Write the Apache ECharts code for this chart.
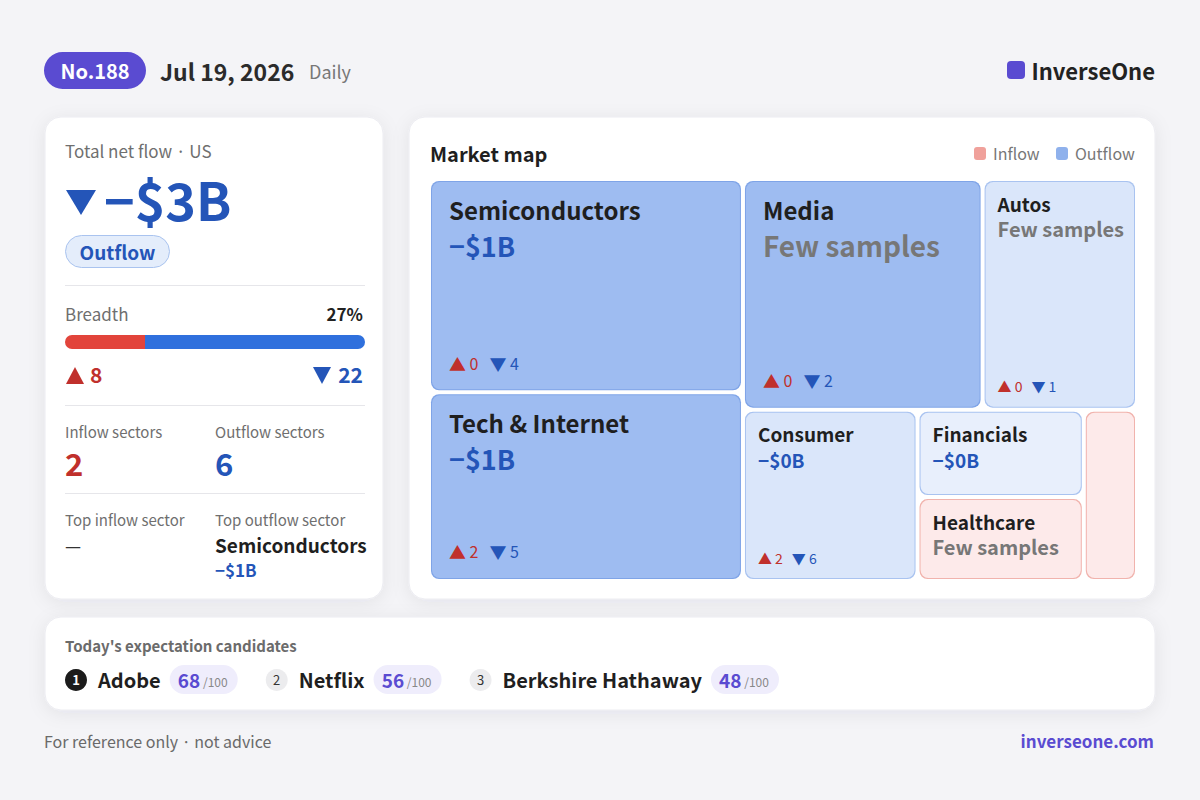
<!DOCTYPE html>
<html><head><meta charset="utf-8">
<script src="https://cdn.jsdelivr.net/npm/echarts@6/dist/echarts.min.js"></script>
<style>html,body{margin:0;padding:0;background:#f4f4f7;}#c{width:1200px;height:800px;}</style>
</head><body><div id="c"></div>
<script>
// ---------- data ----------
const issueNo = 'No.188';
const reportDate = 'Jul 19, 2026';
const period = 'Daily';
const brand = 'InverseOne';
const siteUrl = 'inverseone.com';
const region = 'US';
const totalFlowText = '−$3B';
const flowLabel = 'Outflow';
const breadthUp = 8;
const breadthDown = 22;
const inflowSectorCount = 2;
const outflowSectorCount = 6;
const topInflowSector = '—';
const topOutflowSector = 'Semiconductors';
const topOutflowText = '−$1B';

const sectorNames = ['Semiconductors', 'Tech & Internet', 'Media', 'Autos', 'Consumer', 'Financials', 'Healthcare', 'Other'];
const sectorSizes = [23.5, 20.8, 19.4, 12.5, 10.5, 5.1, 4.9, 3.2];
const sectorFlowText = ['−$1B', '−$1B', 'Few samples', 'Few samples', '−$0B', '−$0B', 'Few samples', ''];
const sectorUp = [0, 2, 0, 0, 2, null, null, null];
const sectorDown = [4, 5, 2, 1, 6, null, null, null];
const sectorDirection = ['out', 'out', 'out', 'out', 'out', 'out', 'in', 'in'];
const sectorShade = [2, 2, 2, 1, 1, 0, 0, 0];

const candidateNames = ['Adobe', 'Netflix', 'Berkshire Hathaway'];
const candidateScores = [68, 56, 48];
const scoreMax = 100;

// ---------- styles ----------
const FONT = '"Noto Sans CJK JP","Noto Sans",sans-serif';
const BLUE = '#2455b8', RED = '#c0302c', PURPLE = '#5a4bd1';
const GRAY = '#6f6f6f', DARK = '#222222';
const outShades = [
  { fill: '#e8effc', border: '#a9c3f0' },
  { fill: '#dae6fa', border: '#a9c3f0' },
  { fill: '#9ebcf1', border: '#7fa4e7' }
];
const inShade = { fill: '#fdeaea', border: '#f1b3ad' };

const chart = echarts.init(document.getElementById('c'), null, { renderer: 'svg', width: 1200, height: 800 });

function txt(x, y, text, size, color, weight, align, extra) {
  return Object.assign({
    type: 'text', x: x, y: y - 1, silent: true,
    style: { text: text, fontSize: size, fontFamily: FONT, fontWeight: weight || 'normal', fill: color, textAlign: align || 'left', textVerticalAlign: 'middle' }
  }, extra || {});
}
function card(x, y, w, h) {
  return { type: 'rect', silent: true, shape: { x: x, y: y, width: w, height: h, r: 16 },
    style: { fill: '#ffffff', stroke: '#ececf1', lineWidth: 1, shadowBlur: 18, shadowColor: 'rgba(30,30,60,0.07)', shadowOffsetY: 3 } };
}
function hline(x1, x2, y) {
  return { type: 'line', silent: true, shape: { x1: x1, y1: y, x2: x2, y2: y }, style: { stroke: '#e6e6ea', lineWidth: 1 } };
}
function tri(cx, cy, w, h, up, color) {
  const pts = up ? [[cx - w / 2, cy + h / 2], [cx + w / 2, cy + h / 2], [cx, cy - h / 2]]
                 : [[cx - w / 2, cy - h / 2], [cx + w / 2, cy - h / 2], [cx, cy + h / 2]];
  return { type: 'polygon', silent: true, shape: { points: pts }, style: { fill: color } };
}

const measureCtx = document.createElement('canvas').getContext('2d');
function textWidth(t, size, weight) {
  measureCtx.font = (weight || 'normal') + ' ' + size + 'px ' + FONT;
  return measureCtx.measureText(t).width;
}

// ---------- graphic elements ----------
const g = [];
// header
g.push({ type: 'rect', silent: true, shape: { x: 44, y: 52, width: 102, height: 37, r: 18.5 }, style: { fill: PURPLE } });
g.push(txt(95, 71, issueNo, 20, '#ffffff', 'bold', 'center'));
g.push(txt(160, 72, reportDate, 23, '#2b2b2b', 'bold'));
g.push(txt(309, 72, period, 18, '#777777'));
g.push({ type: 'rect', silent: true, shape: { x: 1007, y: 61, width: 18, height: 18, r: 4 }, style: { fill: PURPLE } });
g.push(txt(1155, 71, brand, 22, DARK, 'bold', 'right'));

// cards
g.push(card(45, 117, 338, 482));
g.push(card(409, 117, 746, 482));
g.push(card(45, 617, 1110, 93));

// left card
g.push(txt(65, 151, 'Total net flow · ' + region, 17, GRAY));
g.push(tri(81, 202.5, 30, 25, false, BLUE));
g.push(txt(104, 199, totalFlowText, 52, BLUE, 'bold'));
g.push({ type: 'rect', silent: true, shape: { x: 65.5, y: 235.5, width: 104, height: 32, r: 16 }, style: { fill: '#e4edfb', stroke: '#a9c3ef', lineWidth: 1 } });
g.push(txt(117.5, 252, flowLabel, 19, BLUE, 'bold', 'center'));
g.push(hline(65, 365, 285.5));
g.push(txt(65, 314, 'Breadth', 17, GRAY));
g.push(txt(363, 314, Math.round(breadthUp / (breadthUp + breadthDown) * 100) + '%', 17, DARK, 'bold', 'right'));
g.push(tri(75, 375.5, 18, 17, true, RED));
g.push(txt(90, 375, String(breadthUp), 21, RED, 'bold'));
g.push(tri(322, 375.5, 18, 17, false, BLUE));
g.push(txt(363, 375, String(breadthDown), 21, BLUE, 'bold', 'right'));
g.push(hline(65, 365, 405.5));
g.push(txt(65, 432, 'Inflow sectors', 15, GRAY));
g.push(txt(215, 432, 'Outflow sectors', 15, GRAY));
g.push(txt(65, 463, String(inflowSectorCount), 31, RED, 'bold'));
g.push(txt(215, 463, String(outflowSectorCount), 31, BLUE, 'bold'));
g.push(hline(65, 365, 493.5));
g.push(txt(65, 520, 'Top inflow sector', 15, GRAY));
g.push(txt(215, 520, 'Top outflow sector', 15, GRAY));
g.push(txt(65, 546, topInflowSector, 18, '#333333'));
g.push(txt(215, 545, topOutflowSector, 19, '#1f1f1f', 'bold'));
g.push(txt(215, 570, topOutflowText, 17, BLUE, 'bold'));

// right card header + legend
g.push(txt(430, 154, 'Market map', 20, '#1f1f1f', 'bold'));
g.push({ type: 'rect', silent: true, shape: { x: 974, y: 147, width: 12, height: 13, r: 3 }, style: { fill: '#f0a19b' } });
g.push(txt(993, 154, 'Inflow', 16, '#777777'));
g.push({ type: 'rect', silent: true, shape: { x: 1056, y: 147, width: 12, height: 13, r: 3 }, style: { fill: '#8fb1ec' } });
g.push(txt(1075, 154, 'Outflow', 16, '#777777'));

// bottom card: candidates
g.push(txt(65, 646, "Today's expectation candidates", 15, '#6b6b6b', 'bold'));
let cx = 65;
candidateNames.forEach(function (name, i) {
  const first = i === 0;
  g.push({ type: 'circle', silent: true, shape: { cx: cx + 11, cy: 680, r: 11 }, style: { fill: first ? '#1c1c1c' : '#ececee' } });
  g.push(txt(cx + 11, 680.5, String(i + 1), 13, first ? '#ffffff' : '#333333', first ? 'bold' : 'normal', 'center'));
  const nx = cx + 33;
  g.push(txt(nx, 680, name, 20, '#1f1f1f', 'bold'));
  const px = nx + textWidth(name, 20, 'bold') + 9;
  g.push({ type: 'rect', silent: true, shape: { x: px, y: 665, width: 68, height: 29, r: 14.5 }, style: { fill: '#efedfc' } });
  g.push({ type: 'text', x: px + 33, y: 679, silent: true,
    style: { text: '{a|' + candidateScores[i] + '}{b| /' + scoreMax + '}', textAlign: 'center', textVerticalAlign: 'middle',
      rich: { a: { fontSize: 19, fontWeight: 'bold', fill: PURPLE, fontFamily: FONT }, b: { fontSize: 12, fill: '#888888', fontFamily: FONT, padding: [5, 0, 0, 0] } } } });
  cx = px + 68 + 28;
});

// footer
g.push(txt(44, 742, 'For reference only · not advice', 16, '#6a6a6a'));
g.push(txt(1154, 741, siteUrl, 17, PURPLE, 'bold', 'right'));

// ---------- treemap ----------
function shadeOf(i) {
  return sectorDirection[i] === 'in' ? inShade : outShades[sectorShade[i]];
}
function buildData(layouts) {
  return sectorNames.map(function (name, i) {
    const s = shadeOf(i);
    const item = { name: name, value: sectorSizes[i],
      itemStyle: { color: s.fill, borderColor: s.border, borderWidth: 1, borderRadius: 8 } };
    const L = layouts && layouts[name];
    if (!L) { item.label = { show: false }; return item; }
    const area = L.width * L.height;
    if (L.width < 90) { item.label = { show: false }; return item; }
    const big = area > 40000;
    const pad = big ? [12, 2, 14, 17] : [9, 2, 10, 12];
    const nameLH = big ? 30 : 24, valLH = big ? 42 : 27, cntLH = big ? 22 : 18;
    const hasCounts = sectorUp[i] !== null && sectorDown[i] !== null;
    const isFew = sectorFlowText[i] === 'Few samples';
    const avail = L.height - 2 - pad[0] - pad[2];
    const sp = Math.max(0, Math.floor(avail - nameLH - valLH - cntLH - 1));
    const nameSize = big ? 24 : 19;
    const valSize = big ? (isFew ? 28 : 27) : (isFew ? 20 : 19);
    const cntSize = big ? 16 : 14;
    const triSize = big ? 17 : 14;
    let str = '{n|' + name + '}\n{' + (isFew ? 'vg' : 'v') + '|' + sectorFlowText[i] + '}';
    if (hasCounts) {
      str += '\n{sp| }\n{ut|▲}{un| ' + sectorUp[i] + '}{g| }{dt|▼}{dn| ' + sectorDown[i] + '}';
    }
    item.label = {
      show: true, position: 'insideTopLeft', distance: 0, padding: pad,
      formatter: function () { return str; },
      rich: {
        n: { fontSize: nameSize, fontWeight: 'bold', color: '#1f1f1f', fontFamily: FONT, lineHeight: nameLH },
        v: { fontSize: valSize, fontWeight: 'bold', color: BLUE, fontFamily: FONT, lineHeight: valLH },
        vg: { fontSize: valSize, fontWeight: 'bold', color: '#777777', fontFamily: FONT, lineHeight: valLH },
        sp: { fontSize: 1, lineHeight: sp, height: sp },
        ut: { fontSize: triSize, color: RED, fontFamily: FONT, lineHeight: cntLH },
        un: { fontSize: cntSize, color: RED, fontFamily: FONT, lineHeight: cntLH },
        g: { fontSize: cntSize, width: big ? 11 : 9, lineHeight: cntLH },
        dt: { fontSize: triSize, color: BLUE, fontFamily: FONT, lineHeight: cntLH },
        dn: { fontSize: cntSize, color: BLUE, fontFamily: FONT, lineHeight: cntLH }
      }
    };
    return item;
  });
}

function makeOption(layouts) {
  return {
    backgroundColor: '#f4f4f7',
    animation: false,
    graphic: { elements: g },
    grid: { left: 65, top: 335, width: 300, height: 14 },
    xAxis: { type: 'value', min: 0, max: breadthUp + breadthDown, show: false },
    yAxis: { type: 'category', data: ['Breadth'], show: false },
    series: [
      { type: 'bar', stack: 'b', data: [breadthUp], barWidth: 14, silent: true, itemStyle: { color: '#e2443b', borderRadius: [7, 0, 0, 7] } },
      { type: 'bar', stack: 'b', data: [breadthDown], barWidth: 14, silent: true, itemStyle: { color: '#2f70dd', borderRadius: [0, 7, 7, 0] } },
      {
        id: 'map', type: 'treemap', left: 431, top: 181, width: 704, height: 398,
        roam: false, nodeClick: false, silent: true, breadcrumb: { show: false },
        emphasis: { disabled: true },
        levels: [{ itemStyle: { gapWidth: 4, borderWidth: 0, borderColor: '#ffffff' } }],
        label: { show: true, position: 'insideTopLeft', distance: 0 },
        data: buildData(layouts)
      }
    ]
  };
}

chart.setOption(makeOption(null));
let layouts = null;
try {
  const sm = chart.getModel().getSeriesByIndex(2);
  const root = sm.getViewRoot ? sm.getViewRoot() : sm.getData().tree.root;
  layouts = {};
  root.children.forEach(function (n) { const l = n.getLayout(); layouts[n.name] = { width: l.width, height: l.height }; });
} catch (e) {
  layouts = null;
}
if (layouts) chart.setOption(makeOption(layouts), { replaceMerge: ['series'] });
</script></body></html>
